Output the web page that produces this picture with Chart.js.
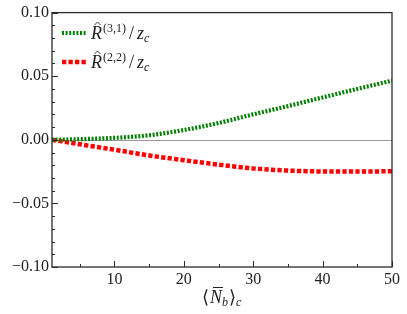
<!DOCTYPE html>
<html>
<head>
<meta charset="utf-8">
<script src="https://cdn.jsdelivr.net/npm/chart.js@4"></script>
<style>
  html, body { margin: 0; padding: 0; background: #fff; }
  #wrap { width: 407px; height: 314px; }
</style>
</head>
<body>
<div id="wrap"><canvas id="myChart" width="407" height="314"></canvas></div>
<script>
    // Du lieu doc tu hinh
    const xValues = [1, 5, 10, 15, 20, 25, 30, 35, 40, 45, 50];
    const r31Values = [0, 0.0005, 0.0015, 0.0036, 0.0077, 0.0132, 0.0200, 0.0265, 0.0333, 0.0400, 0.0465];
    const r22Values = [0, -0.0035, -0.0078, -0.0123, -0.0160, -0.0195, -0.0225, -0.0242, -0.0249, -0.0250, -0.0247];
    const xTicks = [10, 20, 30, 40, 50];
    const xMinorTicks = [5, 15, 25, 35, 45];
    const yTicks = [-0.10, -0.05, 0, 0.05, 0.10];

    const serif = '"Liberation Serif", serif';
    const textColor = '#222';

    // ve chu co chi so tren / duoi
    function drawLegendLabel(ctx, x, by, sup) {
        ctx.fillStyle = textColor;
        ctx.textBaseline = 'alphabetic';
        ctx.textAlign = 'left';
        ctx.font = 'italic 18px ' + serif;
        ctx.fillText('R', x, by);
        var w = ctx.measureText('R').width;
        // dau mu
        ctx.strokeStyle = textColor;
        ctx.lineWidth = 0.9;
        ctx.beginPath();
        ctx.moveTo(x + w / 2 - 2, by - 14);
        ctx.lineTo(x + w / 2 + 1, by - 17);
        ctx.lineTo(x + w / 2 + 4, by - 14);
        ctx.stroke();
        var cx = x + w + 1;
        ctx.font = '12px ' + serif;
        ctx.fillText(sup, cx, by - 7);
        cx += ctx.measureText(sup).width + 3;
        ctx.font = '18px ' + serif;
        ctx.fillText('/', cx, by);
        cx += ctx.measureText('/').width + 3;
        ctx.font = 'italic 18px ' + serif;
        ctx.fillText('z', cx, by);
        cx += ctx.measureText('z').width;
        ctx.font = 'italic 12px ' + serif;
        ctx.fillText('c', cx, by + 3);
    }

    const decorPlugin = {
        id: 'decor',
        beforeDatasetsDraw(chart) {
            const { ctx, chartArea: a, scales: { y } } = chart;
            ctx.save();
            ctx.strokeStyle = '#9a9a9a';
            ctx.lineWidth = 1;
            const y0 = Math.round(y.getPixelForValue(0)) + 0.5;
            ctx.beginPath();
            ctx.moveTo(a.left, y0);
            ctx.lineTo(a.right, y0);
            ctx.stroke();
            ctx.restore();
        },
        afterDatasetsDraw(chart) {
            const { ctx, chartArea: a, scales: { x, y } } = chart;
            ctx.save();
            ctx.strokeStyle = '#2a2a2a';
            ctx.lineWidth = 1.3;
            // khung
            ctx.strokeRect(a.left, a.top, a.right - a.left, a.bottom - a.top);
            // vach chia huong vao trong
            ctx.lineWidth = 1;
            ctx.beginPath();
            for (const v of xTicks) {
                const px = Math.round(x.getPixelForValue(v)) + 0.5;
                ctx.moveTo(px, a.bottom); ctx.lineTo(px, a.bottom - 6);
            }
            for (const v of xMinorTicks) {
                const px = Math.round(x.getPixelForValue(v)) + 0.5;
                ctx.moveTo(px, a.bottom); ctx.lineTo(px, a.bottom - 3);
            }
            for (let i = -10; i <= 10; i++) {
                const py = Math.round(y.getPixelForValue(i / 100)) + 0.5;
                const len = (i % 5 === 0) ? 6 : 3;
                ctx.moveTo(a.left, py); ctx.lineTo(a.left + len, py);
            }
            ctx.stroke();

            // chu thich
            ctx.lineWidth = 4.2;
            ctx.strokeStyle = '#008000';
            ctx.setLineDash([2, 1.6]);
            ctx.beginPath(); ctx.moveTo(62, 33); ctx.lineTo(87, 33); ctx.stroke();
            ctx.lineWidth = 4.5;
            ctx.strokeStyle = '#ff0000';
            ctx.setLineDash([4.3, 2.2]);
            ctx.beginPath(); ctx.moveTo(62, 62); ctx.lineTo(88, 62); ctx.stroke();
            ctx.setLineDash([]);
            drawLegendLabel(ctx, 91, 39, '(3,1)');
            drawLegendLabel(ctx, 91, 68, '(2,2)');

            // ten truc x
            const by = 303;
            let cx = 202;
            ctx.fillStyle = textColor;
            ctx.font = '18px ' + serif;
            ctx.fillText('\u27E8', cx, by);
            cx += ctx.measureText('\u27E8').width + 1;
            ctx.font = 'italic 18px ' + serif;
            ctx.fillText('N', cx, by);
            const nw = ctx.measureText('N').width;
            ctx.strokeStyle = textColor;
            ctx.lineWidth = 1;
            ctx.beginPath(); ctx.moveTo(cx + 3, by - 15.5); ctx.lineTo(cx + nw + 1, by - 15.5); ctx.stroke();
            cx += nw;
            ctx.font = 'italic 12px ' + serif;
            ctx.fillText('b', cx, by + 3);
            cx += ctx.measureText('b').width + 1;
            ctx.font = '18px ' + serif;
            ctx.fillText('\u27E9', cx, by);
            cx += ctx.measureText('\u27E9').width;
            ctx.font = 'italic 12px ' + serif;
            ctx.fillText('c', cx, by + 3);
            ctx.restore();
        }
    };

    function makeChart() {
        const ctx = document.getElementById('myChart');
        new Chart(ctx, {
            type: 'line',
            data: {
                datasets: [{
                    label: 'R31',
                    data: xValues.map((v, i) => ({ x: v, y: r31Values[i] })),
                    borderColor: '#008000',
                    borderWidth: 4.2,
                    borderDash: [2, 1.6],
                    pointRadius: 0,
                    fill: false,
                    cubicInterpolationMode: 'monotone'
                }, {
                    label: 'R22',
                    data: xValues.map((v, i) => ({ x: v, y: r22Values[i] })),
                    borderColor: '#ff0000',
                    borderWidth: 4.5,
                    borderDash: [4.3, 2.2],
                    pointRadius: 0,
                    fill: false,
                    cubicInterpolationMode: 'monotone'
                }]
            },
            options: {
                responsive: false,
                animation: false,
                devicePixelRatio: 1,
                layout: { padding: { top: 12, right: 15, left: 0, bottom: 0 } },
                plugins: { legend: { display: false }, tooltip: { enabled: false } },
                scales: {
                    x: {
                        type: 'linear',
                        min: 1,
                        max: 50,
                        grid: { display: false, drawTicks: false },
                        border: { display: false },
                        ticks: { color: textColor, font: { family: serif, size: 16 }, padding: 3, maxRotation: 0 },
                        afterBuildTicks: s => { s.ticks = xTicks.map(v => ({ value: v })); },
                        afterFit: s => { s.height = 47; }
                    },
                    y: {
                        type: 'linear',
                        min: -0.1,
                        max: 0.1,
                        grid: { display: false, drawTicks: false },
                        border: { display: false },
                        ticks: {
                            color: textColor,
                            font: { family: serif, size: 16 },
                            padding: 3,
                            callback: v => v.toFixed(2).replace('-', '\u2212')
                        },
                        afterBuildTicks: s => { s.ticks = yTicks.map(v => ({ value: v })); },
                        afterFit: s => { s.width = 52; }
                    }
                }
            },
            plugins: [decorPlugin]
        });
    }

    Promise.all([
        document.fonts.load('16px "Liberation Serif"'),
        document.fonts.load('italic 18px "Liberation Serif"')
    ]).then(makeChart, makeChart);
</script>
</body>
</html>
